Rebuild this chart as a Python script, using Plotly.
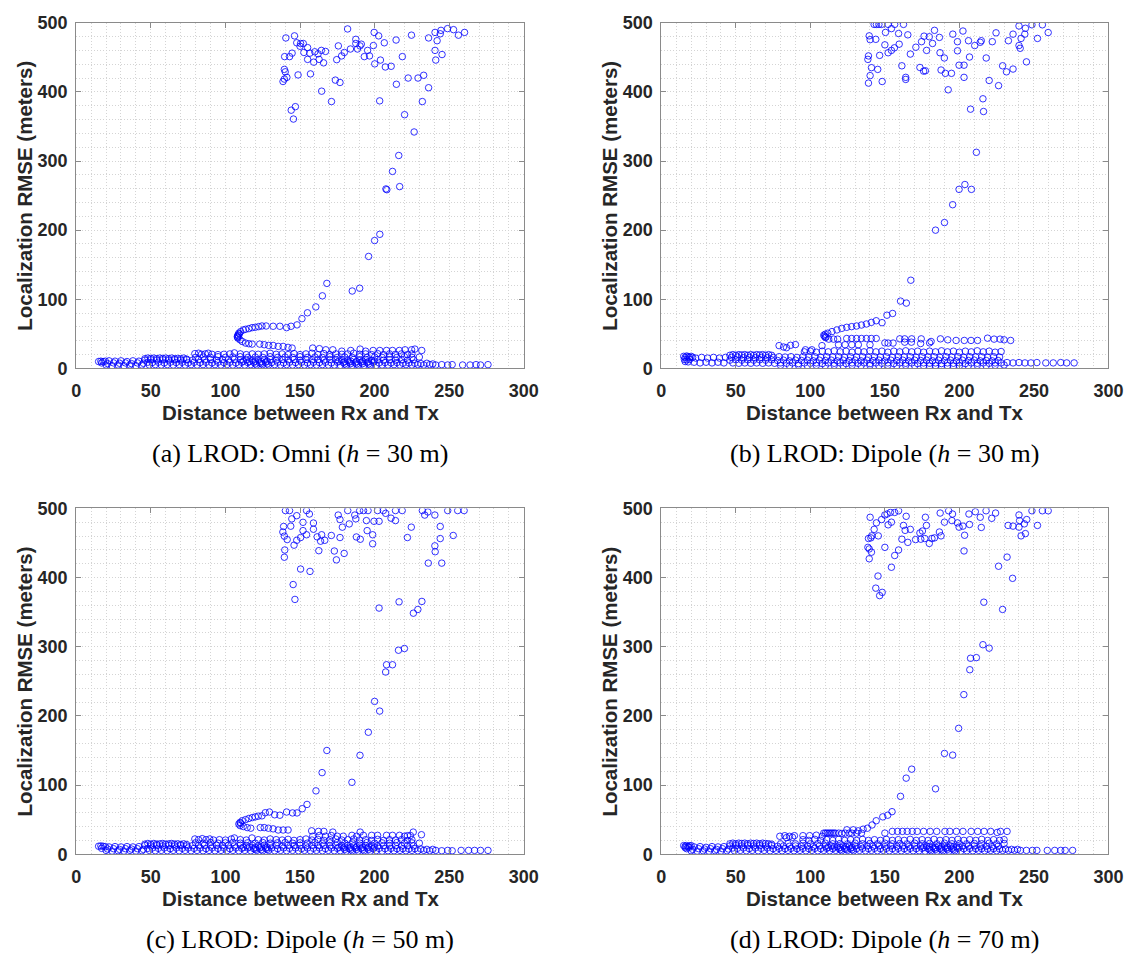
import plotly.graph_objects as go

# ---------------- (a) LROD: Omni, h = 30 m ----------------
a_far = [
    (140.5, 478), (146.3, 481), (147.8, 471), (150.4, 470), (152.2, 470), (150, 466), (155.1, 464),
    (152.6, 457), (156.6, 456), (159.9, 458), (162.1, 455), (164.3, 460), (167.1, 458.5), (159.2, 443),
    (165.8, 442), (155.1, 447), (162.8, 447), (144.7, 456), (143, 451), (139.7, 451), (139.5, 432.5),
    (140.1, 429), (141.2, 421), (138.6, 415), (139.5, 418.5), (148.7, 424.5), (157, 426), (164.5, 401),
    (171.1, 386), (144.1, 373.5), (146.9, 378.6), (145.6, 360.7), (173.7, 417), (176.8, 413.6),
    (174.6, 446.6), (175.7, 466.5), (177.9, 452), (179.7, 457), (181.9, 491), (183.8, 462), (187.4, 476),
    (187.4, 470), (190.2, 466.5), (188.5, 462), (191.1, 469), (193.1, 451), (196.6, 452), (195.3, 460),
    (199.7, 486), (199.2, 467), (202.7, 481), (200.1, 440.5), (203.9, 446), (203.4, 387), (207.2, 436),
    (206.5, 471), (211.1, 437), (214.4, 475), (214.6, 411), (218.6, 451), (222.5, 420), (224.7, 482),
    (229.1, 420), (232.9, 424), (232, 386), (236.2, 406), (236.2, 478), (240.5, 460), (241, 446),
    (241.9, 474), (240.5, 486), (244.5, 489), (244, 484), (245.2, 454), (248.9, 491.5), (252.9, 490),
    (256.2, 482), (260.3, 486), (220.1, 367), (226.5, 342), (216.2, 308), (212, 285), (207.6, 259.6),
    (208.2, 258.5), (216.8, 263),
]
a_curve = [
    (108, 46.2), (108.4, 48.5), (109, 51), (110.2, 53.3), (112, 55.7), (113.5, 56.6), (115.7, 57.6),
    (117.9, 59), (120, 59.5), (122.3, 60.5), (124.5, 61.4), (127.3, 61.4), (132, 61), (136.5, 61),
    (141, 59), (144, 61), (148, 63), (151.3, 72), (155, 80.5), (160.6, 89), (165, 105), (168, 123),
    (185, 112), (190, 116), (196, 162), (200, 185), (203.5, 194),
    (108.2, 45), (108.6, 47.2), (109.4, 50), (108.4, 43.8), (109.8, 41.4), (111.3, 39), (113.5, 36.7),
    (115.7, 35.7), (117.9, 35.2), (123, 35.2), (126, 34.3), (129, 33.3), (132, 33.3), (135.4, 31.9),
    (138.7, 31.9), (142, 30.5), (144.7, 29.5),
]
a_rows = [
    (158.5, 29.5), (163, 28.6), (167.3, 27), (172, 27), (178, 25), (184, 26), (190.3, 28), (194, 25),
    (199, 26), (203.5, 26), (208, 26), (212, 26), (216.6, 26), (220.4, 27), (224.8, 27), (227, 28),
    (231.6, 26),
    (79.5, 21.4), (82, 22), (84, 20.5), (86.5, 21), (88.5, 22), (91, 20.5), (95, 20), (99, 20.5),
    (103, 21), (106, 22.5), (110, 21), (114, 20), (118, 21), (122, 20.5), (126, 21), (130, 22),
    (134, 20.5), (138, 21), (142, 20), (146, 21.5), (150, 20), (154, 21), (158, 22), (162, 20),
    (166, 21.5), (170, 20), (174, 21), (178, 20.5), (182, 21), (186, 22), (190, 20.5), (194, 21),
    (198, 20), (202, 21.5), (206, 20), (210, 21), (214, 20.5), (218, 21), (222, 20), (225, 21),
]
a_band = [
    (46, 14), (48, 15), (50, 14.5), (52, 15), (54, 14), (56, 15), (58, 14.5), (60, 15), (62, 14),
    (64, 15), (66, 14), (68, 14.5), (70, 14), (72, 15), (74, 13.5),
    (80, 16), (85, 16.5), (90, 16), (95, 17), (100, 16), (105, 16.5), (110, 17), (115, 16), (120, 16.5),
    (125, 16), (130, 17), (135, 16), (140, 16.5), (145, 16), (150, 17), (155, 16), (160, 16.5), (165, 16),
    (170, 17), (175, 16), (180, 16.5), (185, 16), (190, 17), (195, 16), (200, 16.5), (205, 16),
    (210, 16.5), (215, 16), (220, 17), (225, 16), (230, 16.5),
    (15, 10), (16.5, 10.5), (18, 10), (19.5, 10.5), (22, 11), (26, 10.5), (30, 11), (34, 10), (38, 11),
    (42, 10.5), (46, 12), (50, 12.5), (54, 12), (58, 12.5), (62, 12), (66, 12.5), (70, 12), (74, 12.5),
    (78, 12), (82, 13), (86, 12.5), (90, 13), (94, 12), (98, 13), (102, 12.5), (106, 13), (110, 12.5),
    (114, 13), (118, 12), (122, 13), (126, 12.5), (130, 13), (134, 12), (138, 13), (142, 12.5),
    (146, 13), (150, 12), (154, 13), (158, 12.5), (162, 13), (166, 12), (170, 13), (174, 12.5),
    (178, 13), (182, 12), (186, 13), (190, 12.5), (194, 13), (198, 12), (202, 13), (206, 12),
    (210, 12.5), (214, 12), (218, 12.5), (222, 12), (226, 12.5),
    (17, 8), (21, 7), (25, 8), (29, 7.5), (33, 8), (37, 7), (41, 8), (45, 7.5), (48, 9), (51, 8.5),
    (55, 9), (59, 8), (63, 9), (67, 8.5), (71, 9), (75, 8), (79, 9), (83, 8.5), (87, 9), (91, 8),
    (95, 9), (99, 8.5), (103, 9), (107, 8), (111, 9), (115, 8.5), (119, 9), (123, 8), (127, 9),
    (131, 8.5), (135, 9), (139, 8), (143, 9), (147, 8.5), (151, 9), (155, 8), (159, 9), (163, 8.5),
    (167, 9), (171, 8), (175, 9), (179, 8.5), (183, 9), (187, 8), (191, 9), (195, 8.5), (199, 9),
    (203, 8), (207, 8.5), (211, 8), (215, 8.5), (219, 7.5), (223, 8), (227, 7.5), (231, 7), (235, 7.5),
    (239, 6.5),
    (20, 5), (24, 4), (28, 5), (32, 4), (36, 5), (40, 4), (44, 5), (49, 5), (53, 5.5), (57, 5),
    (61, 5.5), (65, 5), (69, 5.5), (73, 5), (77, 5.5), (81, 5), (85, 5.5), (89, 5), (93, 5.5), (97, 5),
    (101, 5.5), (105, 5), (109, 5.5), (113, 5), (117, 5.5), (121, 5), (125, 5.5), (129, 5), (133, 5.5),
    (137, 5), (141, 5.5), (145, 5), (149, 5.5), (153, 5), (157, 5.5), (161, 5), (165, 5.5), (169, 5),
    (173, 5), (177, 4.5), (181, 5), (185, 4.5), (189, 5), (193, 4.5), (197, 5), (201, 4.5), (205, 5),
    (209, 5), (213, 5.5), (217, 5), (221, 5.5), (225, 5), (229, 5.5), (233, 5), (237, 5.5), (241, 5),
    (245, 5.5), (249, 5), (252, 5.5), (259, 5), (264, 5), (268, 5.5), (271, 5), (276, 5.5),
    (112, 10.5), (116, 10), (120, 10.5), (124, 10), (128, 10.5), (176, 10.5), (180, 10), (184, 10.5),
    (188, 10), (192, 10.5), (196, 10), (200, 10.5), (180, 6.5), (184, 7), (188, 6.5), (192, 7),
    (196, 6.5), (124, 7), (128, 6.5), (120, 6.5),
]

# ---------------- (b) LROD: Dipole, h = 30 m ----------------
b_far = [
    (142.8, 497.6), (144.3, 497.6), (146, 497.6), (147.8, 497.6), (152.2, 497.6), (156.6, 497.6),
    (162.5, 497.6), (248.7, 497), (255.7, 497),
    (139.5, 481), (140.1, 475.5), (143.9, 476), (150.4, 486), (154.4, 491.5), (159.2, 484.4),
    (165.4, 482.5), (150, 468), (152.2, 456.6), (154.4, 460), (156.4, 463.7), (159.6, 469),
    (146.5, 452.8), (139, 452), (138.6, 447), (141, 435), (140.1, 423.5), (139, 412.7), (145.2, 432.5),
    (148.2, 415), (161.4, 437.7), (164, 421), (164, 418), (167.1, 454.7), (170.8, 464.6), (174.6, 472.6),
    (176.3, 480.6), (179.8, 479.7), (183.3, 489), (186.6, 478.8), (178, 460), (182, 470), (187, 456.6),
    (189.9, 449), (173.5, 435.3), (176, 430), (177.2, 430.5), (187.7, 431.6), (190.6, 426.8),
    (194.7, 426.8), (192.5, 403), (195.6, 483.5), (198.7, 472.6), (198.7, 459.4), (199.8, 438.6),
    (203.1, 438.6), (203.1, 421), (202.4, 488), (206.1, 474), (206.8, 450.4), (210.3, 467), (214, 471.7),
    (214.7, 474), (218, 449), (220, 416.5), (222.1, 472.6), (224.6, 485.4), (226.3, 409), (229, 437.7),
    (231.6, 429), (232.9, 474), (236, 483.5), (236, 433), (240, 495.3), (240, 467), (240.8, 463),
    (243.9, 483.5), (244.3, 492), (241.4, 477.3), (245, 443.4), (252.4, 477.3), (259.6, 485.8),
    (215.8, 390), (216.2, 371.6), (207.5, 375), (211.4, 312.6), (203.7, 266), (199.8, 259), (208.1, 259),
]
b_curve = [
    (195.5, 236.8), (190, 211), (184, 200), (167.4, 127.6), (160.5, 97.4), (164.4, 94.5), (155.2, 79.5),
    (151.4, 77), (148.1, 66.2), (144.2, 69), (140.9, 66.6), (137.6, 64.3), (134.3, 62.8), (131, 61.4),
    (127.7, 60.5), (124.4, 59.5), (121.1, 58), (117.8, 55.7), (114.5, 53.3), (111.7, 51), (110, 49.5),
    (109, 48), (109.5, 46.5), (110.5, 45.5), (110.1, 44.7), (112.3, 42.4), (115.6, 42.4), (118.3, 42.4),
]
b_rows = [
    (124.4, 43.3), (127.7, 43.3), (131, 43.3), (134.3, 43.3), (137.6, 43.3), (140.9, 43.3), (144.2, 43.3),
    (160, 42.8), (163.3, 42.8), (168, 42.8), (174.4, 42.8), (181, 39), (187.3, 42.8), (192.2, 41.4),
    (197.8, 40.5), (203.3, 40.5), (207.8, 40.5), (212.2, 40.5), (218.9, 43.8), (223.3, 42.4),
    (227.3, 42.4), (230, 41.4), (234.4, 40.5),
    (118.9, 34.3), (123.3, 34.3), (127.8, 34.3), (132.2, 34.3), (140, 34.3), (150, 37), (152.2, 36.7),
    (155.5, 36.7), (163.3, 38), (167.8, 38), (174, 36), (180, 37),
    (79, 33), (82, 31), (84, 30), (86.7, 33.5), (90, 34.5), (96.7, 27), (101, 27), (107.8, 33),
    (96, 24), (100, 25), (104, 23.5), (108, 25), (112, 24), (116, 25.5), (120, 24), (124, 25),
    (128, 23.5), (132, 25), (136, 24), (140, 25.5), (144, 24), (148, 25), (152, 23.5), (156, 25),
    (160, 24), (164, 25.5), (168, 24), (172, 25), (176, 23.5), (180, 25), (184, 24), (188, 25.5),
    (192, 24), (196, 25), (200, 23.5), (204, 25), (208, 24), (212, 25.5), (216, 24), (220, 25),
    (224, 23.5), (228, 24.5),
]
b_band = [
    (15, 17.5), (16, 16), (17, 18), (18, 17), (19, 16), (20, 17.5), (21, 16), (15.5, 13), (17, 12.5),
    (19, 13), (16, 10), (18, 9.5),
    (23, 15), (27, 16), (31, 15), (35, 16), (39, 15), (43, 16), (22, 9), (26, 8), (30, 9), (34, 8),
    (38, 9), (42, 8),
    (46, 19), (48, 20), (50, 19), (52, 20), (54, 19.5), (56, 20), (58, 19), (60, 20), (62, 19), (64, 20),
    (66, 19.5), (68, 20), (70, 19), (72, 20), (74, 19),
    (47, 16), (51, 16.5), (55, 15.5), (59, 16), (63, 15.5), (67, 16), (71, 15.5), (75, 16), (79, 17),
    (83, 16.5), (87, 17), (91, 16), (95, 17), (99, 16.5), (103, 17), (107, 16), (111, 17), (115, 16.5),
    (119, 17), (123, 16), (127, 17), (131, 16.5), (135, 17), (139, 16), (143, 17), (147, 16.5),
    (151, 17), (155, 16), (159, 17), (163, 16.5), (167, 17), (171, 16), (175, 17), (179, 16.5),
    (183, 17), (187, 16), (191, 17), (195, 16.5), (199, 17), (203, 16), (207, 17), (211, 16.5),
    (215, 17), (219, 16), (223, 17), (227, 16.5),
    (46, 12), (50, 12.5), (54, 12), (58, 12.5), (62, 12), (66, 12.5), (70, 12), (74, 12.5), (78, 11.5),
    (82, 12), (86, 11), (90, 12), (94, 11.5), (98, 12), (102, 11), (106, 12), (110, 11.5), (114, 12),
    (118, 11), (122, 12), (126, 11.5), (130, 12), (134, 11), (138, 12), (142, 11.5), (146, 12),
    (150, 11), (154, 12), (158, 11.5), (162, 12), (166, 11), (170, 12), (174, 11.5), (178, 12),
    (182, 11), (186, 12), (190, 11.5), (194, 12), (198, 11), (202, 12), (206, 11.5), (210, 12),
    (214, 11), (218, 11.5), (222, 11), (226, 11.5),
    (48, 8), (52, 7.5), (56, 8), (60, 7.5), (64, 8), (68, 7.5), (72, 8), (76, 7.5), (80, 8), (84, 7.5),
    (88, 8), (92, 7), (96, 8), (100, 7.5), (104, 8), (108, 7), (112, 8), (116, 7.5), (120, 8), (124, 7),
    (128, 8), (132, 7.5), (136, 8), (140, 7), (144, 8), (148, 7.5), (152, 8), (156, 7), (160, 8),
    (164, 7.5), (168, 8), (172, 7), (176, 8), (180, 7.5), (184, 8), (188, 7), (192, 8), (196, 7.5),
    (200, 8), (204, 7), (208, 8), (212, 7.5), (216, 8), (220, 7.5), (224, 8), (228, 8), (232, 8.5),
    (236, 8), (240, 8.5), (244, 8), (248, 8), (252, 8.5), (258, 8), (263, 8), (268, 8.5), (272, 8),
    (277, 8),
    (80, 4.5), (86, 4), (92, 4.5), (98, 4), (104, 4.5), (110, 4), (116, 4.5), (122, 4), (128, 4.5),
    (134, 4), (140, 4.5), (146, 4), (152, 4.5), (158, 4), (164, 4.5), (170, 4), (176, 4), (180, 3.5),
    (184, 4), (188, 3.5), (192, 4), (196, 3.5), (200, 4), (206, 4), (212, 4.5), (218, 4), (224, 4.5),
    (230, 5),
]

# ---------------- (c) LROD: Dipole, h = 50 m ----------------
c_far = [
    (140.2, 497), (143, 497), (154.4, 497), (182, 497), (190, 497), (192.6, 497), (195.6, 497),
    (202, 497), (205.8, 497), (214, 497), (218.5, 497), (232, 497), (235.7, 495), (249, 497),
    (255.7, 497), (260, 497),
    (144.5, 485), (147.8, 489.6), (156.3, 492), (159, 479), (152, 480), (139, 474), (138.5, 466),
    (139.5, 460), (141.4, 455), (143.8, 474.4), (147.8, 454), (150.4, 458), (152, 468), (154.4, 462),
    (159, 470), (161.5, 459), (164.5, 462), (163.8, 452.7), (166.6, 454), (162.6, 439), (146, 447),
    (139.8, 440), (139.5, 429.5), (150.4, 412.4), (156.7, 409), (145.4, 390), (146.6, 368.5), (171, 461),
    (173, 438.5), (174.4, 425.7), (175.6, 490.5), (176.8, 484), (176.8, 458), (178.4, 473), (179.6, 435),
    (183, 477.7), (186.7, 490.5), (187.4, 485), (187.8, 458.8), (190.4, 455.5), (194.5, 482.5),
    (195, 468), (198.7, 462), (198.7, 449), (199.6, 481.5), (203, 481.5), (207.4, 493), (211, 486),
    (214, 482.5), (222, 458), (224.6, 473), (240.4, 490.5), (233.6, 490.5), (244, 474), (244, 456.5),
    (240.4, 446), (240.6, 437.5), (236, 421), (245, 421), (252.7, 461),
    (203, 356), (216.4, 365), (231.7, 365.6), (226, 348.6), (229, 354), (216, 295), (220, 297.5),
    (208, 274), (212, 274), (207.4, 263.5),
]
c_curve = [
    (109.8, 46), (110.2, 44.8), (111.3, 48.4), (113.5, 50), (115.7, 51.7), (118, 53), (120, 54),
    (122, 55), (124.5, 55.5), (126.7, 60), (129.5, 61), (133, 57), (136.5, 56.4), (141, 61),
    (145, 59.7), (148, 59.7), (151.5, 65.8), (154.7, 72), (160.7, 91.6), (164.8, 118), (168, 150),
    (184.8, 104), (190.2, 143), (195.8, 176.4), (200, 221), (203.4, 207),
    (109, 43.7), (109.8, 41.4), (112, 40), (114.6, 38.5), (117, 37.6), (123.4, 38.5), (126, 38.5),
    (128.8, 37.6), (132, 36.7), (135.4, 35), (138.7, 35), (142, 35),
]
c_rows = [
    (157.8, 33.8), (162.4, 33), (166, 33), (172, 32), (190.3, 32), (225.9, 32), (231.4, 28.2),
    (222, 26.8),
    (158.5, 26), (163, 27), (167, 26), (171, 27), (175, 26), (179, 26), (184.8, 27.3), (188, 26),
    (192.5, 27.3), (198, 27.3), (202, 27.3), (208, 27.3), (212, 27.3), (216.7, 27.3), (220, 26),
    (224, 27),
    (79.5, 22), (82, 21), (84.5, 22.5), (87, 21), (89.5, 22), (92, 20.5), (96, 21), (100, 20.5),
    (104, 22), (106, 23.5), (110, 21), (114, 20.5), (117.8, 23.5), (122, 21), (126, 20.5), (130, 22),
    (134, 21), (138, 20.5), (142, 21.5), (146, 20), (150, 21), (154, 22), (158, 20.5), (162, 21.5),
    (166, 20), (170, 21), (174, 22), (178, 20.5), (182, 21), (186, 22), (190, 20.5), (194, 21),
    (198, 20), (202, 21.5), (206, 20), (210, 21), (214, 20.5), (218, 21), (222, 20), (225, 21),
]
c_band = [
    (46, 14.5), (48, 15.5), (50, 14.5), (52, 15.5), (54, 14.5), (56, 15), (58, 15.5), (60, 14.5),
    (62, 15), (64, 15.5), (66, 14.5), (68, 15), (70, 14), (72, 15), (74, 14),
    (80, 16.5), (85, 16), (90, 17), (95, 16), (100, 16.5), (105, 17), (110, 16), (115, 16.5), (120, 16),
    (125, 17), (130, 16), (135, 16.5), (140, 17), (145, 16), (150, 16.5), (155, 16), (160, 17),
    (165, 16), (170, 16.5), (175, 17), (180, 16), (185, 16.5), (190, 16), (195, 17), (200, 16),
    (205, 16.5), (210, 16), (215, 17), (220, 16), (225, 16.5), (230, 16),
    (15, 11.5), (16.5, 12), (18, 11.5), (19.5, 11), (22, 10.5), (26, 11), (30, 10.5), (34, 11),
    (38, 10.5), (42, 11), (46, 12.5), (50, 12), (54, 12.5), (58, 12), (62, 12.5), (66, 12), (70, 12.5),
    (74, 12), (78, 12.5), (82, 12.5), (86, 13), (90, 12), (94, 13), (98, 12.5), (102, 13), (106, 12),
    (110, 13), (114, 12.5), (118, 13), (122, 12), (126, 13), (130, 12.5), (134, 13), (138, 12),
    (142, 13), (146, 12.5), (150, 13), (154, 12), (158, 13), (162, 12.5), (166, 13), (170, 12),
    (174, 13), (178, 12.5), (182, 13), (186, 12), (190, 13), (194, 12.5), (198, 13), (202, 12),
    (206, 12.5), (210, 12), (214, 12.5), (218, 12), (222, 12.5), (226, 12),
    (17, 8.5), (21, 7.5), (25, 8), (29, 7), (33, 8), (37, 7.5), (41, 8), (45, 7), (48, 8.5), (51, 9),
    (55, 8.5), (59, 9), (63, 8), (67, 9), (71, 8.5), (75, 9), (79, 8.5), (83, 9), (87, 8), (91, 9),
    (95, 8.5), (99, 9), (103, 8), (107, 9), (111, 8.5), (115, 9), (119, 8), (123, 9), (127, 8.5),
    (131, 9), (135, 8), (139, 9), (143, 8.5), (147, 9), (151, 8), (155, 9), (159, 8.5), (163, 9),
    (167, 8), (171, 9), (175, 8.5), (179, 9), (183, 8), (187, 9), (191, 8.5), (195, 9), (199, 8),
    (203, 8.5), (207, 8), (211, 8.5), (215, 8), (219, 8), (223, 7.5), (227, 8), (231, 7.5), (235, 7),
    (239, 7),
    (20, 5.5), (24, 4.5), (28, 5), (32, 4.5), (36, 5.5), (40, 4.5), (44, 5), (49, 5.5), (53, 5),
    (57, 5.5), (61, 5), (65, 5.5), (69, 5), (73, 5.5), (77, 5), (81, 5.5), (85, 5), (89, 5.5), (93, 5),
    (97, 5.5), (101, 5), (105, 5.5), (109, 5), (113, 5.5), (117, 5), (121, 5.5), (125, 5), (129, 5.5),
    (133, 5), (137, 5.5), (141, 5), (145, 5.5), (149, 5), (153, 5.5), (157, 5), (161, 5.5), (165, 5),
    (169, 5.5), (173, 5), (177, 5), (181, 4.5), (185, 5), (189, 4.5), (193, 5), (197, 4.5), (201, 5),
    (205, 4.5), (209, 5), (213, 5), (217, 5.5), (221, 5), (225, 5.5), (229, 5), (233, 5.5), (237, 5),
    (241, 5.5), (245, 5), (249, 5.5), (252, 5), (258, 5.5), (263, 5.5), (267, 5.5), (271, 5.5),
    (276, 5.5),
    (112, 10), (116, 10.5), (120, 10), (124, 10.5), (128, 10), (176, 10), (180, 10.5), (184, 10),
    (188, 10.5), (192, 10), (196, 10.5), (200, 10), (180, 7), (184, 6.5), (188, 7), (192, 6.5),
    (196, 7), (124, 6.5), (128, 7), (120, 7),
]

# ---------------- (d) LROD: Dipole, h = 70 m ----------------
d_far = [
    (140.1, 487.3), (144.3, 479.2), (142.8, 469.8), (141.2, 460.4), (139, 456.6), (140.6, 457.5),
    (138.6, 443.8), (139.5, 441.5), (141, 436.8), (139.5, 427.3), (145.6, 460.4), (147.8, 484),
    (150, 490.6), (151.5, 492), (153.7, 494.3), (156.6, 494.3), (159.2, 496.7), (152.2, 476.4),
    (154.4, 480.2), (150, 443.8), (159.2, 440), (156.6, 432), (154.4, 415), (164.3, 488.7),
    (162.5, 475.5), (163.6, 468.4), (167.1, 469.8), (161.4, 455.6), (165.4, 451), (170.6, 455),
    (173.5, 464.6), (175.2, 467.4), (174.1, 455.6), (177.2, 487.3), (177.9, 475.5), (176.8, 456.6),
    (179.8, 449.5), (181.6, 456.6), (183.3, 457.5), (187.1, 493.4), (186.6, 466), (187.7, 460.4),
    (190, 480.2), (192.8, 496.7), (195.4, 492), (195, 482.5), (198.7, 479.2), (199.8, 473),
    (202.4, 474.5), (203.5, 461.3), (203.1, 438.6), (206.4, 492), (206.8, 476.9), (210.7, 495.3),
    (214, 487.3), (214.7, 472.6), (217.9, 496.7), (221.7, 485.8), (224.3, 493.4), (232, 429.7),
    (226.3, 416.5), (232.7, 475.5), (236, 474.5), (240, 490.6), (240.4, 482.5), (240, 473),
    (241.4, 460.4), (244.3, 463.7), (245.2, 484), (243.6, 477.8), (248.7, 496.7), (252.4, 475.5),
    (255.7, 496.7), (259.6, 496.7), (235.7, 399),
    (145.4, 402.3), (143.9, 384.8), (148.2, 378.7), (146.5, 374), (216.4, 364.5), (229, 354),
    (215.8, 303), (220, 298), (207.5, 283.4), (211.4, 284.3), (207, 266.8),
]
d_curve = [
    (203, 230.8), (199.5, 182), (190, 145.7), (195.5, 143.3), (168, 123), (164.3, 110), (184, 94.6),
    (160.5, 83.7), (154.8, 61.5), (151.9, 56.4), (148.6, 54), (144.2, 48.4), (141.4, 42.3),
    (138.3, 37.6), (135.4, 36.2),
]
d_rows = [
    (109, 30.5), (110.2, 30.5), (111.3, 30.5), (112.4, 30.5), (113.5, 30.5), (114.6, 30.5),
    (115.7, 30.5), (116.8, 30.5), (119, 30.5), (121.2, 30), (123.4, 30.5), (126, 30.5), (127.8, 30.5),
    (131, 30.5), (134.3, 30.5), (124.5, 35.3), (128.8, 35.3), (132.1, 33.8),
    (150, 30.5), (155, 33), (158.5, 33), (161.8, 33), (165, 33), (168.4, 33), (171.7, 33), (176, 33),
    (180.4, 33), (184.8, 33), (190.3, 33), (193.6, 33), (198, 33), (202.4, 33), (207.9, 33),
    (212.3, 33), (216.6, 33), (221, 33), (225.4, 31.5), (227.6, 33), (232, 33),
    (79.5, 25.9), (82.8, 26.8), (86, 25.9), (89.3, 26.8), (84, 24), (88, 24.5),
    (95, 26.8), (99.5, 26.8), (104, 27.5), (108, 26),
    (95, 21), (99, 20), (103, 21.5), (107, 20), (111, 21), (115, 20), (119, 21.5), (123, 20),
    (127, 21), (131, 20), (135, 21.5), (139, 20), (143, 21), (147, 20), (151, 21.5), (155, 20),
    (159, 21), (163, 20), (167, 21.5), (171, 20), (175, 21), (179, 20), (183, 21.5), (187, 20),
    (191, 21), (195, 20), (199, 21.5), (203, 20), (207, 21), (211, 20), (215, 21.5), (219, 20),
    (223, 21), (227, 20), (230, 21),
]
d_band = [
    (15, 12.5), (16, 11.5), (17, 12.5), (18, 11), (19, 12), (20, 12.5), (16, 9.5), (18.5, 10),
    (46, 15), (48, 16), (50, 15), (52, 16), (54, 15.5), (56, 16), (58, 15), (60, 16), (62, 15.5),
    (64, 16), (66, 15), (68, 16), (70, 15.5), (72, 15), (74, 14.5),
    (80, 15), (85, 15.5), (90, 15), (95, 16), (100, 15), (105, 15.5), (110, 16), (115, 15), (120, 15.5),
    (125, 15), (130, 16), (135, 15), (140, 15.5), (145, 15), (150, 16), (155, 15), (160, 15.5),
    (165, 15), (170, 16), (175, 15), (180, 15.5), (185, 15), (190, 16), (195, 15), (200, 15.5),
    (205, 15), (210, 15.5), (215, 15), (220, 16), (225, 15), (230, 15.5),
    (22, 10.5), (26, 11), (30, 10), (34, 11), (38, 10.5), (42, 11), (46, 12), (50, 12.5), (54, 12),
    (58, 12.5), (62, 12), (66, 12.5), (70, 12), (74, 12.5), (78, 11.5), (82, 12), (86, 11.5), (90, 12),
    (94, 11.5), (98, 12), (102, 11), (106, 12), (110, 11.5), (114, 12), (118, 11), (122, 12),
    (126, 11.5), (130, 12), (134, 11), (138, 12), (142, 11.5), (146, 12), (150, 11), (154, 12),
    (158, 11.5), (162, 12), (166, 11), (170, 12), (174, 11.5), (178, 12), (182, 11), (186, 12),
    (190, 11.5), (194, 12), (198, 11), (202, 12), (206, 11.5), (210, 12), (214, 11), (218, 11.5),
    (222, 11), (226, 11.5),
    (17, 8), (21, 7), (25, 8), (29, 7.5), (33, 8), (37, 7), (41, 8), (45, 7.5), (48, 9), (51, 8.5),
    (55, 9), (59, 8), (63, 9), (67, 8.5), (71, 9), (75, 8), (79, 8.5), (83, 8), (87, 8.5), (91, 8),
    (95, 8.5), (99, 8), (103, 8.5), (107, 8), (111, 8.5), (115, 8), (119, 8.5), (123, 8), (127, 8.5),
    (131, 8), (135, 8.5), (139, 8), (143, 8.5), (147, 8), (151, 8.5), (155, 8), (159, 8.5), (163, 8),
    (167, 8.5), (171, 8), (175, 8.5), (179, 8), (183, 8.5), (187, 8), (191, 8.5), (195, 8), (199, 8.5),
    (203, 8), (207, 8.5), (211, 8), (215, 8), (219, 7.5), (223, 8), (227, 7.5), (231, 7.5), (235, 7),
    (239, 7),
    (20, 5), (24, 4.5), (28, 5), (32, 4.5), (36, 5), (40, 4.5), (44, 5), (49, 5), (53, 5.5), (57, 5),
    (61, 5.5), (65, 5), (69, 5.5), (73, 5), (77, 5.5), (81, 5), (85, 5.5), (89, 5), (93, 5.5), (97, 5),
    (101, 5.5), (105, 5), (109, 5.5), (113, 5), (117, 5.5), (121, 5), (125, 5.5), (129, 5), (133, 5.5),
    (137, 5), (141, 5.5), (145, 5), (149, 5.5), (153, 5), (157, 5.5), (161, 5), (165, 5.5), (169, 5),
    (173, 5), (177, 4.5), (181, 5), (185, 4.5), (189, 5), (193, 4.5), (197, 5), (201, 4.5), (205, 5),
    (209, 5), (213, 5.5), (217, 5), (221, 5.5), (225, 5), (229, 5.5), (233, 5.5), (237, 5.5),
    (241, 5.5), (245, 5.5), (249, 5.5), (252, 5.5), (259, 5.5), (264, 5.5), (268, 5.5), (271, 5.5),
    (276, 5.5),
    (112, 10), (116, 10.5), (120, 10), (124, 10.5), (128, 10), (176, 10), (180, 10.5), (184, 10),
    (188, 10.5), (192, 10), (196, 10.5), (200, 10), (180, 6.5), (184, 7), (188, 6.5), (192, 7),
    (196, 6.5), (124, 7), (128, 6.5), (120, 6.5),
]

captions = [
    "(a) LROD: Omni (<i>h</i> = 30 m)",
    "(b) LROD: Dipole (<i>h</i> = 30 m)",
    "(c) LROD: Dipole (<i>h</i> = 50 m)",
    "(d) LROD: Dipole (<i>h</i> = 70 m)",
]
panel_points = [
    a_far + a_curve + a_rows + a_band,
    b_far + b_curve + b_rows + b_band,
    c_far + c_curve + c_rows + c_band,
    d_far + d_curve + d_rows + d_band,
]
x_ticks = [0, 50, 100, 150, 200, 250, 300]
y_ticks = [0, 100, 200, 300, 400, 500]
x_title = "Distance between Rx and Tx"
y_title = "Localization RMSE (meters)"

# ---------------- layout geometry (pixels) ----------------
W, H = 1146, 969
boxes = [  # left, right, top, bottom of each plotting area
    (72.5, 528, 13, 366),
    (668, 1123, 13, 366),
    (72.5, 528, 509, 862),
    (668, 1123, 509, 862),
]

AX_COLOR = "#8a8a8a"
GRID_COLOR = "#d4d4d4"
TXT = "#262626"
tick_font = dict(family="Liberation Sans, Arial, sans-serif", size=18, color=TXT, weight="bold")
title_font = dict(family="Liberation Sans, Arial, sans-serif", size=20.5, color=TXT, weight="bold")
cap_font = dict(family="Liberation Serif, Times New Roman, serif", size=26, color="#000000")

fig = go.Figure()
annotations = []
for i, (pts, box, cap) in enumerate(zip(panel_points, boxes, captions)):
    n = "" if i == 0 else str(i + 1)
    left, right, top, bottom = box
    xs = [p[0] for p in pts]
    ys = [p[1] for p in pts]
    fig.add_trace(go.Scatter(
        x=xs, y=ys, mode="markers", xaxis="x" + n, yaxis="y" + n,
        marker=dict(symbol="circle-open", size=6.5, color="#0000ff", line=dict(width=0.8)),
        showlegend=False, hoverinfo="skip",
    ))
    common = dict(
        showline=True, linecolor=AX_COLOR, linewidth=1, mirror="ticks",
        ticks="inside", ticklen=5, tickwidth=1, tickcolor=AX_COLOR,
        showgrid=True, gridcolor=GRID_COLOR, gridwidth=1, griddash="1px,2px",
        zeroline=False, tickfont=tick_font,
    )
    fig.update_layout({
        "xaxis" + n: dict(
            domain=[left / W, right / W], anchor="y" + n, range=[0, 300],
            tickvals=x_ticks, ticklabelstandoff=6,
            minor=dict(dtick=10, tick0=0, showgrid=True, gridcolor=GRID_COLOR,
                       griddash="1px,2px", ticks=""),
            **common,
        ),
        "yaxis" + n: dict(
            domain=[1 - bottom / H, 1 - top / H], anchor="x" + n, range=[0, 500],
            tickvals=y_ticks, ticklabelstandoff=4,
            minor=dict(dtick=20, tick0=0, showgrid=True, gridcolor=GRID_COLOR,
                       griddash="1px,2px", ticks=""),
            **common,
        ),
    })
    cx = (left + right) / 2 / W
    annotations.append(dict(
        text=x_title, x=cx, y=1 - (bottom + 45) / H, xref="paper", yref="paper",
        xanchor="center", yanchor="middle", showarrow=False, font=title_font,
    ))
    annotations.append(dict(
        text=y_title, x=(left - 53) / W, y=1 - (top + bottom) / 2 / H, xref="paper", yref="paper",
        xanchor="center", yanchor="middle", textangle=-90, showarrow=False, font=title_font,
    ))
    annotations.append(dict(
        text=cap, x=cx, y=1 - (bottom + 87) / H, xref="paper", yref="paper",
        xanchor="center", yanchor="middle", showarrow=False, font=cap_font,
    ))

fig.update_layout(
    width=W, height=H, margin=dict(l=0, r=0, t=0, b=0),
    paper_bgcolor="white", plot_bgcolor="white",
    annotations=annotations,
)
fig.write_html("out.html")
